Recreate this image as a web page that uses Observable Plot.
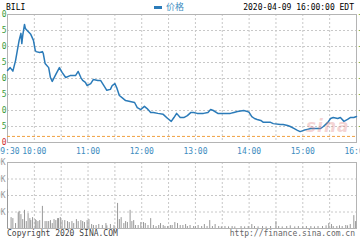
<!DOCTYPE html>
<html><head><meta charset="utf-8">
<script src="https://cdn.jsdelivr.net/npm/d3@7"></script>
<script src="https://cdn.jsdelivr.net/npm/@observablehq/plot@0.6"></script>
<style>
body{margin:0;background:#fff;}
#wrap{position:relative;width:360px;height:240px;overflow:hidden;font-family:"DejaVu Sans Mono",monospace;font-size:8px;}
.abs{position:absolute;white-space:nowrap;line-height:1;}
</style></head><body>
<div id="wrap">
  <div id="price" class="abs" style="left:0;top:0"></div>
  <div id="vol" class="abs" style="left:0;top:160px"></div>
  <div class="abs" style="left:306px;top:118px;font-family:'DejaVu Sans';font-weight:bold;font-style:italic;font-size:17px;color:rgba(225,130,130,0.35);letter-spacing:1px">sina</div>
  <div id="ticker" class="abs" style="left:6px;top:4px;color:#000"></div>
  <div class="abs" style="left:154px;top:6px;width:8px;height:3px;background:#2b7bb9"></div>
  <div id="legend" class="abs" style="left:166px;top:2px;color:#3d8cc0;font-family:'Noto Sans CJK SC';font-size:9px"></div>
  <div id="stamp" class="abs" style="right:6px;top:4px;color:#000"></div>
  <div id="copy" class="abs" style="left:7px;top:230px;color:#444"></div>
  <div id="site" class="abs" style="right:5px;top:230px;color:#666"></div>
</div>
<script>
const ticker = "BILI";
const seriesName = "价格";
const stampText = "2020-04-09 16:00:00 EDT";
const copyText = "Copyright 2020 SINA.COM";
const siteText = "http://finance.sina.com.cn";

const priceTimes = ["09:30","09:33","09:36","09:39","09:41","09:43","09:45","09:46","09:47","09:49","09:50","09:52","09:56","09:59","10:01","10:02","10:06","10:09","10:10","10:12","10:16","10:18","10:20","10:24","10:28","10:31","10:35","10:40","10:46","10:49","10:52","10:54","10:57","10:59","11:03","11:06","11:11","11:14","11:17","11:21","11:25","11:27","11:30","11:32","11:35","11:39","11:42","11:47","11:52","11:55","11:59","12:03","12:06","12:10","12:13","12:18","12:24","12:29","12:33","12:36","12:39","12:43","12:47","12:51","12:55","12:58","13:02","13:09","13:14","13:17","13:20","13:25","13:31","13:39","13:43","13:47","13:54","13:58","14:00","14:03","14:06","14:09","14:13","14:16","14:24","14:27","14:35","14:38","14:43","14:46","14:50","14:54","14:57","15:01","15:05","15:09","15:16","15:20","15:23","15:28","15:31","15:34","15:39","15:42","15:46","15:50","15:53","15:57","16:00"];
const prices = [24.25,24.34,24.23,24.56,24.88,25.19,25.41,25.09,25.34,25.69,25.56,25.50,25.38,25.19,24.88,24.84,24.81,24.84,24.78,24.47,24.34,24.03,23.91,24.13,24.34,24.19,24.03,24.09,24.09,24.22,24.03,23.94,23.88,23.78,23.84,23.97,23.94,23.94,23.81,23.63,23.66,23.78,23.84,23.72,23.47,23.38,23.31,23.28,23.25,23.09,23.03,23.13,23.06,22.94,22.94,22.91,22.88,22.75,22.66,22.78,22.91,22.78,22.78,22.84,22.94,22.94,22.91,22.91,22.94,23.03,23.00,22.91,22.91,22.91,22.94,22.97,23.00,22.97,22.94,22.81,22.75,22.72,22.69,22.63,22.63,22.59,22.56,22.56,22.53,22.50,22.44,22.38,22.34,22.38,22.41,22.44,22.44,22.44,22.50,22.63,22.75,22.78,22.75,22.78,22.66,22.72,22.78,22.78,22.81];
const prevClose = 22.19;
const priceTicks = [22,22.5,23,23.5,24,24.5,25,25.5,26];

const volMinutes = [0,4,6,9,12,13,15,17,19,21,23,25,26,28,31,32,34,36,39,42,44,46,48,50,52,54,56,57,59,61,64,67,69,72,74,77,79,82,84,86,89,91,94,96,99,102,106,110,111,115,119,123,125,127,130,132,134,137,139,141,143,146,149,152,154,157,160,163,166,169,171,174,176,179,182,184,187,190,193,196,199,201,204,208,210,213,217,220,223,226,229,232,236,239,243,247,251,254,261,265,269,273,276,280,285,289,294,300,303,307,312,316,321,325,330,334,339,343,347,352,356,359,362,364,368,371,374,378,380,383,387,389];
const volumes = [117,33,30,15,48,52,42,27,55,21,45,30,24,33,27,24,21,24,67,21,21,21,24,15,27,24,30,30,33,24,24,21,18,21,15,27,21,24,21,18,24,27,12,9,9,12,9,15,8,12,9,76,27,33,15,21,18,55,21,24,9,9,18,18,15,9,30,9,6,9,15,9,6,6,9,9,18,15,9,9,12,6,9,6,6,9,6,12,6,24,6,12,6,5,6,5,6,5,6,5,6,12,6,5,6,5,6,21,6,5,6,8,5,6,5,6,6,5,6,6,8,15,12,6,6,8,6,9,8,12,39,21];
const volTicks = [50,100,150,200];

const axisLabelTimes = ["09:30","10:00","11:00","12:00","13:00","14:00","15:00","16:00"];
const gridTimes = ["10:00","10:30","11:00","11:30","12:00","12:30","13:00","13:30","14:00","14:30","15:00","15:30"];

document.getElementById("ticker").textContent = ticker;
document.getElementById("legend").textContent = seriesName;
document.getElementById("stamp").textContent = stampText;
document.getElementById("copy").textContent = copyText;
document.getElementById("site").textContent = siteText;

const toDate = s => { const [h, m] = s.split(":").map(Number); return new Date(Date.UTC(2020, 3, 9, h, m)); };
const start = toDate("09:30");
const xDomain = [toDate("09:30"), toDate("16:00")];
const priceData = priceTimes.map((t, i) => ({time: toDate(t), price: prices[i]}));
const volData = volMinutes.map((m, i) => ({time: new Date(+start + m * 60000), vol: volumes[i]}));

const gridStyle = {stroke: "#c8c8c8", strokeOpacity: 1, strokeDasharray: "2,2"};
const svgStyle = {fontFamily: "DejaVu Sans Mono", fontSize: "8px", background: "transparent", overflow: "visible"};

const pricePlot = Plot.plot({
  width: 360, height: 160,
  marginLeft: 7, marginRight: 4, marginTop: 14, marginBottom: 18,
  style: svgStyle,
  x: {type: "utc", domain: xDomain},
  y: {domain: [priceTicks[0], priceTicks[priceTicks.length - 1]]},
  marks: [
    Plot.gridX(gridTimes.map(toDate), gridStyle),
    Plot.gridY(priceTicks.slice(1, -1), gridStyle),
    Plot.frame({stroke: "#b4b4b4"}),
    Plot.ruleY([prevClose], {stroke: "#f0a040", strokeDasharray: "3,2"}),
    Plot.line(priceData, {x: "time", y: "price", stroke: "#2b7bb9", strokeWidth: 1.5}),
    Plot.axisX(axisLabelTimes.map(toDate), {tickSize: 0, tickPadding: 6, tickFormat: d3.utcFormat("%H:%M"), fill: "#3d8cc0", label: null}),
    Plot.axisY(priceTicks.filter(v => v >= prevClose), {anchor: "left", tickSize: 0, tickPadding: 1, tickFormat: ".1f", fill: "#3a9a3a", label: null}),
    Plot.axisY(priceTicks.filter(v => v < prevClose), {anchor: "left", tickSize: 0, tickPadding: 1, tickFormat: ".1f", fill: "#d03030", label: null}),
    Plot.axisY(priceTicks.filter(v => v >= prevClose), {anchor: "right", tickSize: 0, tickPadding: 2, tickFormat: v => "+" + ((v / prevClose - 1) * 100).toFixed(2) + "%", fill: "#3a9a3a", label: null})
  ]
});
document.getElementById("price").appendChild(pricePlot);

const volPlot = Plot.plot({
  width: 360, height: 80,
  marginLeft: 7, marginRight: 4, marginTop: 2, marginBottom: 12,
  style: svgStyle,
  x: {type: "utc", domain: xDomain, axis: null},
  y: {domain: [0, volTicks[volTicks.length - 1]]},
  marks: [
    Plot.gridX(gridTimes.map(toDate), gridStyle),
    Plot.gridY(volTicks.slice(0, -1), gridStyle),
    Plot.frame({stroke: "#b4b4b4"}),
    Plot.ruleX(volData, {x: "time", y: "vol", stroke: "#999", strokeWidth: 1}),
    Plot.axisY(volTicks, {anchor: "left", tickSize: 0, tickPadding: 2, tickFormat: d => d + "K", fill: "#999", label: null})
  ]
});
document.getElementById("vol").appendChild(volPlot);
</script>
</body></html>
